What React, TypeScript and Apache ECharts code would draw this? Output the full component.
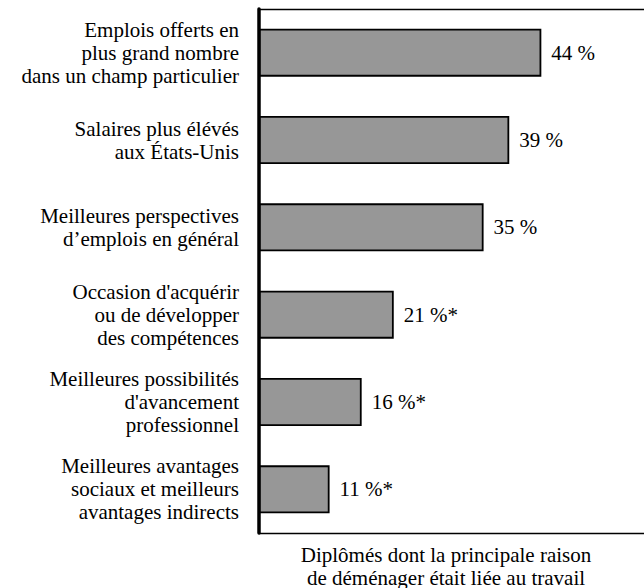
import React, { useEffect, useRef } from "react";
import * as echarts from "echarts";

const categories = [
  "Emplois offerts en\nplus grand nombre\ndans un champ particulier",
  "Salaires plus élévés\naux États-Unis",
  "Meilleures perspectives\nd’emplois en général",
  "Occasion d'acquérir\nou de développer\ndes compétences",
  "Meilleures possibilités\nd'avancement\nprofessionnel",
  "Meilleures avantages\nsociaux et meilleurs\navantages indirects",
];
const values = [44, 39, 35, 21, 16, 11];
const valueLabels = ["44 %", "39 %", "35 %", "21 %*", "16 %*", "11 %*"];
const axisTitle = "Diplômés dont la principale raison\nde déménager était liée au travail";

const FONT = "'Liberation Serif', 'Times New Roman', serif";
const FS = 21;

export default function App() {
  const ref = useRef<HTMLDivElement>(null);
  useEffect(() => {
    if (!ref.current) return;
    const chart = echarts.init(ref.current, undefined, { renderer: "svg" });
    chart.setOption({
      animation: false,
      backgroundColor: "#ffffff",
      textStyle: { fontFamily: FONT, color: "#000" },
      grid: { left: 259, right: 0, top: 9, bottom: 55, containLabel: false },
      xAxis: [
        {
          type: "value",
          position: "bottom",
          min: 0,
          max: 60,
          axisLine: { show: true, onZero: false, lineStyle: { color: "#000", width: 1.3 } },
          axisTick: { show: false },
          axisLabel: { show: false },
          splitLine: { show: false },
        },
        {
          type: "value",
          position: "top",
          min: 0,
          max: 60,
          axisLine: { show: true, onZero: false, lineStyle: { color: "#000", width: 1.3 } },
          axisTick: { show: false },
          axisLabel: { show: false },
          splitLine: { show: false },
        },
      ],
      yAxis: {
        type: "category",
        inverse: true,
        data: categories,
        axisLine: { show: true, lineStyle: { color: "#000", width: 3.5 } },
        axisTick: { show: false },
        axisLabel: {
          margin: 20,
          fontFamily: FONT,
          fontSize: FS,
          lineHeight: 23,
          color: "#000",
          align: "right",
          padding: [6, 0, 0, 0],
        },
      },
      series: [
        {
          type: "bar",
          xAxisIndex: 0,
          data: values,
          barWidth: 48,
          itemStyle: { color: "#979797", borderColor: "#000", borderWidth: 1.8 },
          label: {
            show: true,
            position: "right",
            distance: 10,
            fontFamily: FONT,
            fontSize: FS,
            color: "#000",
            formatter: (p: any) => valueLabels[p.dataIndex],
          },
        },
      ],
      graphic: [
        {
          type: "text",
          x: 446,
          y: 543,
          style: {
            text: axisTitle,
            font: `${FS}px ${FONT}`,
            fill: "#000",
            textAlign: "center",
            textVerticalAlign: "top",
            lineHeight: 23,
          },
        },
      ],
    });
    return () => chart.dispose();
  }, []);
  return (
    <div
      ref={ref}
      style={{ position: "fixed", left: 0, top: 0, width: 644, height: 588 }}
    />
  );
}
